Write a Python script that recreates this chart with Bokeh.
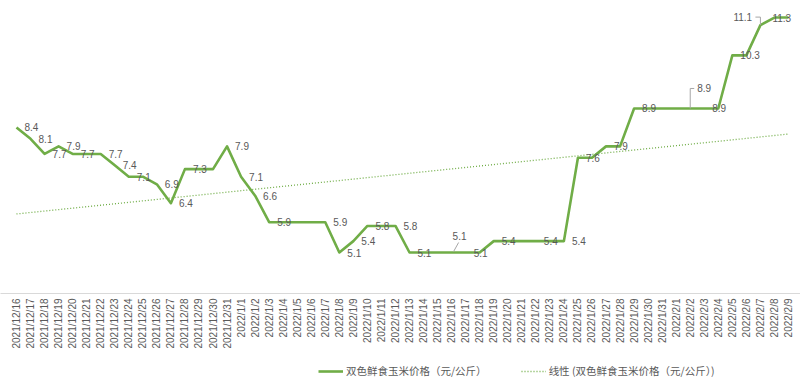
from math import pi
import numpy as np
from bokeh.plotting import figure
from bokeh.layouts import column
from bokeh.models import Range1d, FixedTicker, Legend, LegendItem, ColumnDataSource
from bokeh.core.properties import value
from bokeh.embed import file_html
from bokeh.resources import INLINE

# ---------------- data ----------------
dates = [
    "2021/12/16", "2021/12/17", "2021/12/18", "2021/12/19", "2021/12/20", "2021/12/21",
    "2021/12/22", "2021/12/23", "2021/12/24", "2021/12/25", "2021/12/26", "2021/12/27",
    "2021/12/28", "2021/12/29", "2021/12/30", "2021/12/31",
    "2022/1/1", "2022/1/2", "2022/1/3", "2022/1/4", "2022/1/5", "2022/1/6", "2022/1/7",
    "2022/1/8", "2022/1/9", "2022/1/10", "2022/1/11", "2022/1/12", "2022/1/13", "2022/1/14",
    "2022/1/15", "2022/1/16", "2022/1/17", "2022/1/18", "2022/1/19", "2022/1/20", "2022/1/21",
    "2022/1/22", "2022/1/23", "2022/1/24", "2022/1/25", "2022/1/26", "2022/1/27", "2022/1/28",
    "2022/1/29", "2022/1/30", "2022/1/31",
    "2022/2/1", "2022/2/2", "2022/2/3", "2022/2/4", "2022/2/5", "2022/2/6", "2022/2/7",
    "2022/2/8", "2022/2/9",
]
prices = [
    8.4, 8.1, 7.7, 7.9, 7.7, 7.7, 7.7, 7.4, 7.1, 7.1,
    6.9, 6.4, 7.3, 7.3, 7.3, 7.9, 7.1, 6.6, 5.9, 5.9,
    5.9, 5.9, 5.9, 5.1, 5.4, 5.8, 5.8, 5.8, 5.1, 5.1,
    5.1, 5.1, 5.1, 5.1, 5.4, 5.4, 5.4, 5.4, 5.4, 5.4,
    7.6, 7.6, 7.9, 7.9, 8.9, 8.9, 8.9, 8.9, 8.9, 8.9,
    8.9, 10.3, 10.3, 11.1, 11.3, 11.3,
]
series_name = "双色鲜食玉米价格（元/公斤）"
trend_name = "线性 (双色鲜食玉米价格（元/公斤）)"

# indices of points that carry a data label
label_idx = [0, 1, 2, 3, 4, 6, 7, 8, 10, 11, 12, 15, 16, 17, 18, 22, 23, 24, 25, 27,
             28, 31, 32, 34, 37, 39, 40, 42, 44, 48, 49, 51, 53, 54]
# labels moved away from the default position (pixel offsets)
moved_labels = {31: (1, -17), 48: (7, -20), 53: (-27, -8), 54: (-2, 0)}
# leader lines, as pixel paths from the point
leaders = {31: [(2, -1), (7, -10)], 48: [(0, 0), (0, -20), (4, -20)], 53: [(0, 0), (0, -8), (-5, -8)]}

# ---------------- layout ----------------
W, H = 800, 382
FH = 293              # plot frame height
AXH = 71              # space under the frame for the date labels
LH = H - FH - AXH     # legend strip height
XPX = 14.036          # px per category
YPX = 37.9            # px per unit
x0 = -16 / XPX
y0 = 5.1 - 41 / YPX

GREEN = "#70AD47"
GREY = "#595959"

p = figure(frame_width=W, frame_height=FH,
           x_range=Range1d(x0, x0 + W / XPX), y_range=Range1d(y0, y0 + FH / YPX),
           output_backend="svg", toolbar_location=None, y_axis_location=None,
           min_border_left=0, min_border_right=0, min_border_top=0,
           min_border_bottom=AXH)
p.outline_line_color = None
p.grid.visible = False
p.background_fill_color = "white"
p.border_fill_color = "white"

idx = list(range(len(dates)))

coef = np.polyfit(idx, prices, 1)
trend = np.polyval(coef, idx)
trend_style = dict(line_color=GREEN, line_width=1.3, line_dash="1 2")
main_style = dict(line_color=GREEN, line_width=2.6, line_join="round")
p.line(idx, trend, **trend_style)
p.line(idx, prices, **main_style)

# leader lines
lx, ly = [], []
for i, path in leaders.items():
    lx.append([i + dx / XPX for dx, dy in path])
    ly.append([prices[i] - dy / YPX for dx, dy in path])
p.multi_line(lx, ly, line_color="#A6A6A6", line_width=1)

# data labels
src = ColumnDataSource(dict(
    x=label_idx,
    y=[prices[i] for i in label_idx],
    t=[f"{prices[i]:.1f}" for i in label_idx],
    xo=[moved_labels.get(i, (8, 0))[0] for i in label_idx],
    yo=[moved_labels.get(i, (8, 0))[1] for i in label_idx],
))
p.text(x="x", y="y", text="t", x_offset="xo", y_offset="yo", source=src,
       text_align="left", text_baseline="middle", text_font=value("Liberation Sans"),
       text_font_size="10px", text_color=GREY)

# x axis
ax = p.xaxis[0]
ax.ticker = FixedTicker(ticks=idx)
ax.major_label_overrides = {i: d for i, d in enumerate(dates)}
ax.major_label_orientation = pi / 2
ax.major_label_text_font = "Liberation Sans"
ax.major_label_text_font_size = "10px"
ax.major_label_text_color = GREY
ax.major_label_standoff = 5
ax.major_tick_out = 0
ax.major_tick_in = 0
ax.major_tick_line_color = None
ax.minor_tick_line_color = None
ax.axis_line_color = "#D9D9D9"
ax.axis_line_width = 1

# legend strip underneath (its lines hold the same data but lie outside its view)
lg = figure(frame_width=W, frame_height=LH, x_range=Range1d(0, 1), y_range=Range1d(-2, -1),
            output_backend="svg", toolbar_location=None,
            x_axis_location=None, y_axis_location=None, min_border=0)
lg.outline_line_color = None
lg.grid.visible = False
lg_main = lg.line(idx, prices, **main_style)
lg_trend = lg.line(idx, trend, **trend_style)

legend = Legend(items=[LegendItem(label=series_name, renderers=[lg_main]),
                       LegendItem(label=trend_name, renderers=[lg_trend])],
                orientation="horizontal", location=(318, 4))
legend.label_text_font = "Noto Sans CJK SC"
legend.label_text_font_size = "10.5px"
legend.label_text_color = GREY
legend.glyph_width = 25
legend.glyph_height = 14
legend.label_height = 14
legend.label_standoff = 3
legend.spacing = 34
legend.padding = 0
legend.margin = 0
legend.border_line_color = None
legend.background_fill_alpha = 0
lg.add_layout(legend, "center")

layout = column(p, lg, spacing=0)
open("out.html", "w").write(file_html(layout, INLINE))
